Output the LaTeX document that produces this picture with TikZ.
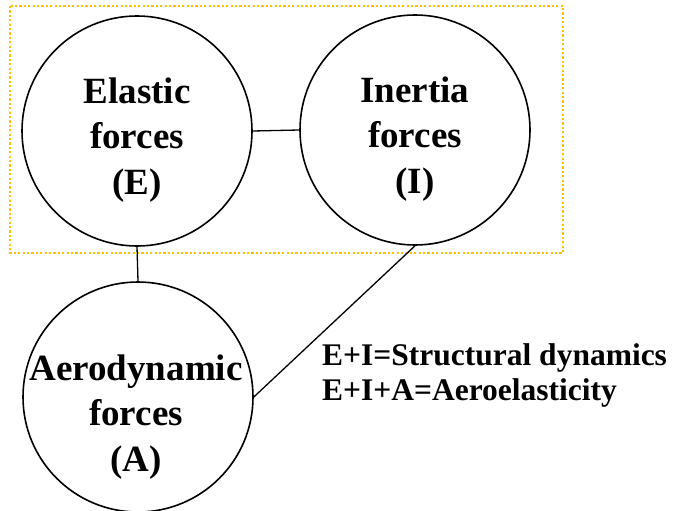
\documentclass[tikz,border=0pt]{standalone}
\usepackage{fontspec}
\setmainfont{Liberation Serif}
\begin{document}
\begin{tikzpicture}[x=1pt,y=-1pt,
  forcecircle/.style={circle,draw,line width=1.6pt,minimum size=230pt,inner sep=0pt},
  forcetext/.style={align=center,font=\bfseries\fontsize{37}{45.5}\selectfont,inner sep=0pt},
  sidetext/.style={align=left,anchor=north west,font=\bfseries\fontsize{31.5}{35}\selectfont,inner sep=0pt},
  link/.style={line width=1.3pt}]
\useasboundingbox (0,0) rectangle (677,511);
% dotted frame round the structural-dynamics pair
\draw[color={rgb,255:red,255;green,192;blue,0},line width=2.4pt,dash pattern=on 2.2pt off 2.2pt]
  (10,6) rectangle (563,253);
% the three force circles
\node[forcecircle] (E) at (137,131) {};
\node[forcecircle] (I) at (415,130) {};
\node[forcecircle] (A) at (138,397) {};
\node[forcetext] (Et) at (137,140) {Elastic\\forces\\(E)};
\node[forcetext] (It) at (415,139) {Inertia\\forces\\(I)};
\node[forcetext] (At) at (136,417) {Aerodynamic\\forces\\(A)};
% couplings
\draw[link] (E.east) -- (I.west);
\draw[link] (E.south) -- (A.north);
\draw[link] (I.south) -- (A.east);
% legend
\node[sidetext] (legend) at (322,343) {E+I=Structural dynamics\\E+I+A=Aeroelasticity};
\end{tikzpicture}
\end{document}
